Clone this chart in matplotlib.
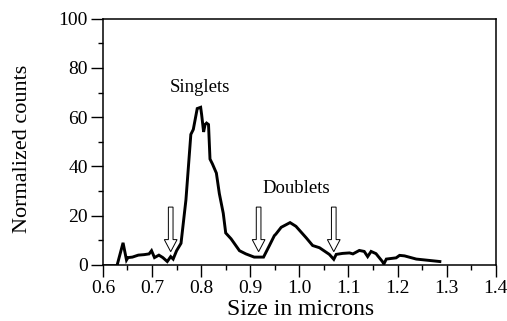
import matplotlib
matplotlib.use('Agg')
import matplotlib.pyplot as plt
from matplotlib.patches import FancyArrow

plt.rcParams['font.family'] = ['Liberation Serif', 'DejaVu Serif']

# size distribution (microns vs normalized counts)
size = [0.629, 0.641, 0.648, 0.651, 0.660, 0.672, 0.684, 0.694, 0.699, 0.705,
        0.714, 0.722, 0.731, 0.738, 0.743, 0.750, 0.759, 0.769, 0.779, 0.784,
        0.792, 0.799, 0.801, 0.805, 0.808, 0.811, 0.815, 0.818, 0.823, 0.831,
        0.837, 0.845, 0.850, 0.861, 0.878, 0.891, 0.908, 0.927, 0.939, 0.949,
        0.952, 0.963, 0.981, 0.993, 1.014, 1.027, 1.041, 1.061, 1.070, 1.075,
        1.088, 1.102, 1.109, 1.122, 1.132, 1.139, 1.146, 1.156, 1.169, 1.172,
        1.177, 1.197, 1.204, 1.214, 1.238, 1.262, 1.286]
counts = [0.0, 9.0, 2.0, 3.0, 3.2, 4.0, 4.2, 4.5, 5.8, 3.0,
          4.0, 3.0, 1.4, 3.4, 2.4, 5.8, 8.8, 26.4, 53.0, 55.0,
          63.5, 64.0, 61.0, 54.0, 57.0, 57.6, 57.0, 43.0, 41.0, 37.3,
          29.0, 21.0, 13.0, 10.6, 5.8, 4.5, 3.2, 3.2, 7.9, 11.9,
          12.5, 15.3, 17.2, 15.7, 11.0, 7.9, 7.0, 4.3, 2.3, 4.3,
          4.7, 4.9, 4.5, 5.9, 5.5, 3.4, 5.5, 4.6, 1.4, 0.4,
          2.4, 2.9, 3.9, 3.7, 2.4, 1.9, 1.4]

# gate markers
gate_x = [0.738, 0.917, 1.070]
gate_tip = 5.4
gate_top = 23.5

fig = plt.figure(figsize=(5.07, 3.21), dpi=100)
ax = fig.add_axes([0.203, 0.1745, 0.775, 0.7675])

ax.plot([0.6, size[0]], [0, 0], color='black', lw=1.8)
ax.plot(size, counts, color='black', lw=2.1, solid_joinstyle='miter')

for gx in gate_x:
    ax.add_patch(FancyArrow(gx, gate_top, 0, gate_tip - gate_top,
                            width=0.0095, head_width=0.026, head_length=4.9,
                            length_includes_head=True, fc='white', ec='black',
                            lw=0.7, zorder=3))

ax.text(0.798, 72, 'Singlets', fontsize=13.5, ha='center', va='center')
ax.text(0.993, 31, 'Doublets', fontsize=13.5, ha='center', va='center')

ax.set_xlim(0.6, 1.4)
ax.set_ylim(0, 100)
ax.set_xticks([0.6, 0.7, 0.8, 0.9, 1.0, 1.1, 1.2, 1.3, 1.4])
ax.set_xticks([0.65, 0.75, 0.85, 0.95, 1.05, 1.15, 1.25, 1.35], minor=True)
ax.set_yticks([0, 20, 40, 60, 80, 100])
ax.set_yticks([10, 30, 50, 70, 90], minor=True)
ax.tick_params(which='major', direction='out', length=8.5, width=1, labelsize=14, pad=2.5)
ax.tick_params(which='minor', direction='out', length=3.5, width=1)
ax.tick_params(top=False, right=False)
for s in ax.spines.values():
    s.set_linewidth(1.1)

ax.set_xlabel('Size in microns', fontsize=17)
ax.set_ylabel('Normalized counts', fontsize=16)
ax.xaxis.set_label_coords(0.502, -0.138)
ax.yaxis.set_label_coords(-0.18, 0.473)

fig.savefig('out.png', dpi=100)
